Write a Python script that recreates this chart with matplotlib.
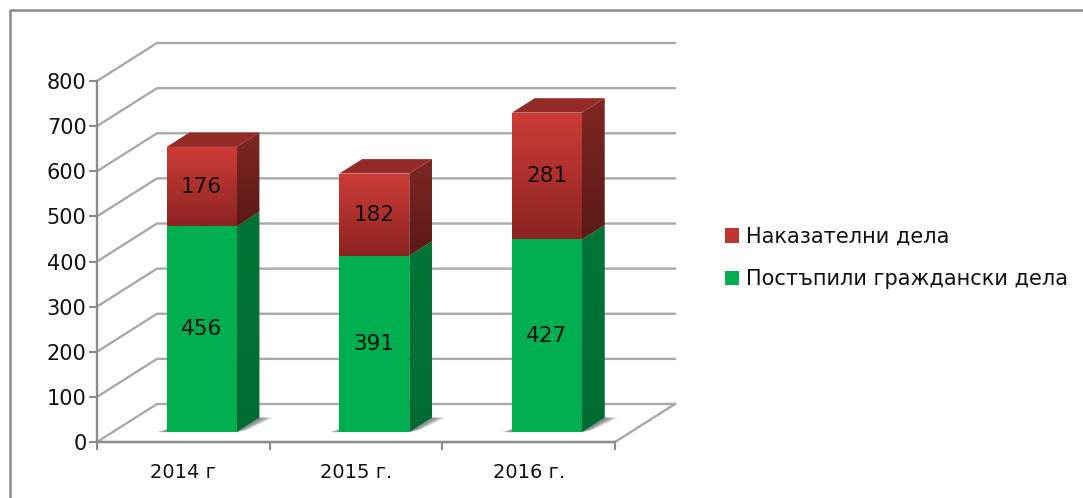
# -*- coding: utf-8 -*-
import matplotlib
matplotlib.use("Agg")
import matplotlib.pyplot as plt
import numpy as np
from matplotlib.lines import Line2D
from matplotlib.patches import Patch, Polygon

#%% data
years = ["2014 г", "2015 г.", "2016 г."]
civil = [456, 391, 427]
criminal = [176, 182, 281]
yticks = [0, 100, 200, 300, 400, 500, 600, 700, 800]
civil_label = "Постъпили граждански дела"
criminal_label = "Наказателни дела"

#%% look of the fake 3d box
plt.rcParams['font.family'] = ['DejaVu Sans']
W, H = 1083, 498
left, right, top, bottom = 97, 615, 81, 442  # front plane in pixels
depth_x = 60 / ((right - left) / 3.0)        # box depth in category units
depth_y = 38 / ((bottom - top) / 800.0)      # box depth in value units
bar_w = 0.405
d_front, d_back = 0.26, 0.64                 # bar position inside the depth
grid_col = '#a9a9a9'
axis_col = '#8c8c8c'
text_col = '#111111'


def pt(x, v, d=0.0):
    # data position of a point at depth d (0 front, 1 back wall)
    return (x + d * depth_x, v + d * depth_y)


def grad_poly(ax, pts, c_top, c_bot, z):
    # polygon filled with a vertical gradient
    pts = np.array(pts)
    c = np.array([matplotlib.colors.to_rgb(c_top), matplotlib.colors.to_rgb(c_bot)])
    t = np.linspace(0, 1, 64)[:, None]
    img = (c[0] * (1 - t) + c[1] * t)[:, None, :]
    im = ax.imshow(img, extent=(pts[:, 0].min(), pts[:, 0].max(),
                                pts[:, 1].min(), pts[:, 1].max()),
                   origin='upper', aspect='auto', zorder=z, interpolation='bilinear')
    im.set_clip_path(Polygon(pts, closed=True, transform=ax.transData))
    im.set_clip_on(True)
    return im


def box(ax, x, v0, v1, front, side, top_col, z):
    x0, x1 = x, x + bar_w
    grad_poly(ax, [pt(x0, v0, d_front), pt(x1, v0, d_front), pt(x1, v1, d_front),
                   pt(x0, v1, d_front)], front[0], front[1], z + 1)
    grad_poly(ax, [pt(x1, v0, d_front), pt(x1, v0, d_back), pt(x1, v1, d_back),
                   pt(x1, v1, d_front)], side[0], side[1], z)
    if top_col:
        ax.add_patch(Polygon([pt(x0, v1, d_front), pt(x1, v1, d_front), pt(x1, v1, d_back),
                              pt(x0, v1, d_back)], closed=True, fc=top_col, ec='none',
                             zorder=z, clip_on=False))


def shadow(ax, x):
    # soft floor shadow, one wedge each side of the bar
    x1 = x + bar_w
    for off, al in [(1.0, 0.3), (0.75, 0.35), (0.5, 0.4), (0.25, 0.45)]:
        ax.add_patch(Polygon([pt(x1, 0, d_front), pt(x1 + 0.04 * off, 0, d_front + 0.06),
                              pt(x1 + 0.075 * off, 0, d_back), pt(x1, 0, d_back)],
                             closed=True, fc='#777777', ec='none',
                             alpha=al, zorder=2, clip_on=False))
        ax.add_patch(Polygon([pt(x - 0.06 * off, 0, d_front), pt(x, 0, d_front),
                              pt(x, 0, d_front + 0.2)], closed=True, fc='#777777', ec='none',
                             alpha=al, zorder=2, clip_on=False))


#%% figure
fig = plt.figure(figsize=(W / 100.0, H / 100.0), dpi=100)
ax = fig.add_axes([left / W, 1 - bottom / H, (right - left) / W, (bottom - top) / H])
ax.patch.set_visible(False)

# gridlines on the side wall and back wall
for v in yticks:
    xs, ys = zip(pt(0, v), pt(0, v, 1), pt(3, v, 1))
    ax.plot(xs, ys, color=grid_col, lw=1.7, zorder=1, clip_on=False,
            solid_joinstyle='miter')
# floor
xs, ys = zip(pt(3, 0, 1), pt(3, 0), pt(0, 0))
ax.plot(xs, ys, color=grid_col, lw=1.7, zorder=1, clip_on=False)

# bars
for i in range(len(years)):
    x = i + 0.5 - bar_w / 2 - d_front * depth_x + 0.106
    shadow(ax, x)
    box(ax, x, 0, civil[i], ('#00B050', '#00AE50'), ('#007537', '#006C32'), None, 3)
    box(ax, x, civil[i], civil[i] + criminal[i], ('#CE3C38', '#8C2421'),
        ('#7F2723', '#5A1916'), '#952B27', 5)
    cx, cy = pt(x + bar_w / 2, civil[i] / 2.0, d_front)
    ax.text(cx, cy, str(civil[i]), ha='center', va='center', fontsize=15.5,
            color=text_col, zorder=8)
    cx, cy = pt(x + bar_w / 2, civil[i] + criminal[i] / 2.0, d_front)
    ax.text(cx, cy, str(criminal[i]), ha='center', va='center', fontsize=15.5,
            color=text_col, zorder=8)

ax.set_xlim(0, 3)
ax.set_ylim(0, 800)
ax.set_yticks(yticks)
ax.set_xticks([0, 1, 2, 3])
ax.set_xticklabels([])
ax.set_xticks([0.5, 1.5, 2.5], minor=True)
ax.set_xticklabels(years, minor=True, fontsize=14, color=text_col)
ax.tick_params(axis='x', which='minor', length=0, pad=15)
ax.tick_params(axis='x', which='major', length=6, width=1.5, color=axis_col, direction='out')
ax.tick_params(axis='y', length=6, width=1.5, color=axis_col, labelsize=15,
               labelcolor=text_col, pad=1.5)
for s in ['top', 'right']:
    ax.spines[s].set_visible(False)
for s in ['left', 'bottom']:
    ax.spines[s].set_color(axis_col)
    ax.spines[s].set_linewidth(1.7)

# legend
handles = [Patch(fc='#BE3430', ec='none', label=criminal_label),
           Patch(fc='#00B050', ec='none', label=civil_label)]
leg = fig.legend(handles=handles, loc='center left', bbox_to_anchor=(725 / W, 1 - 258 / H),
                 frameon=False, fontsize=15, handlelength=0.68, handleheight=0.68,
                 handletextpad=0.35, labelspacing=1.08, borderpad=0, borderaxespad=0,
                 labelcolor=text_col)

# outer frame of the picture
fig.add_artist(Line2D([9.5 / W, 9.5 / W, 1], [0, 1 - 10.5 / H, 1 - 10.5 / H],
                      color='#8a8a8a', lw=1.8))

fig.savefig('out.png', dpi=100)
